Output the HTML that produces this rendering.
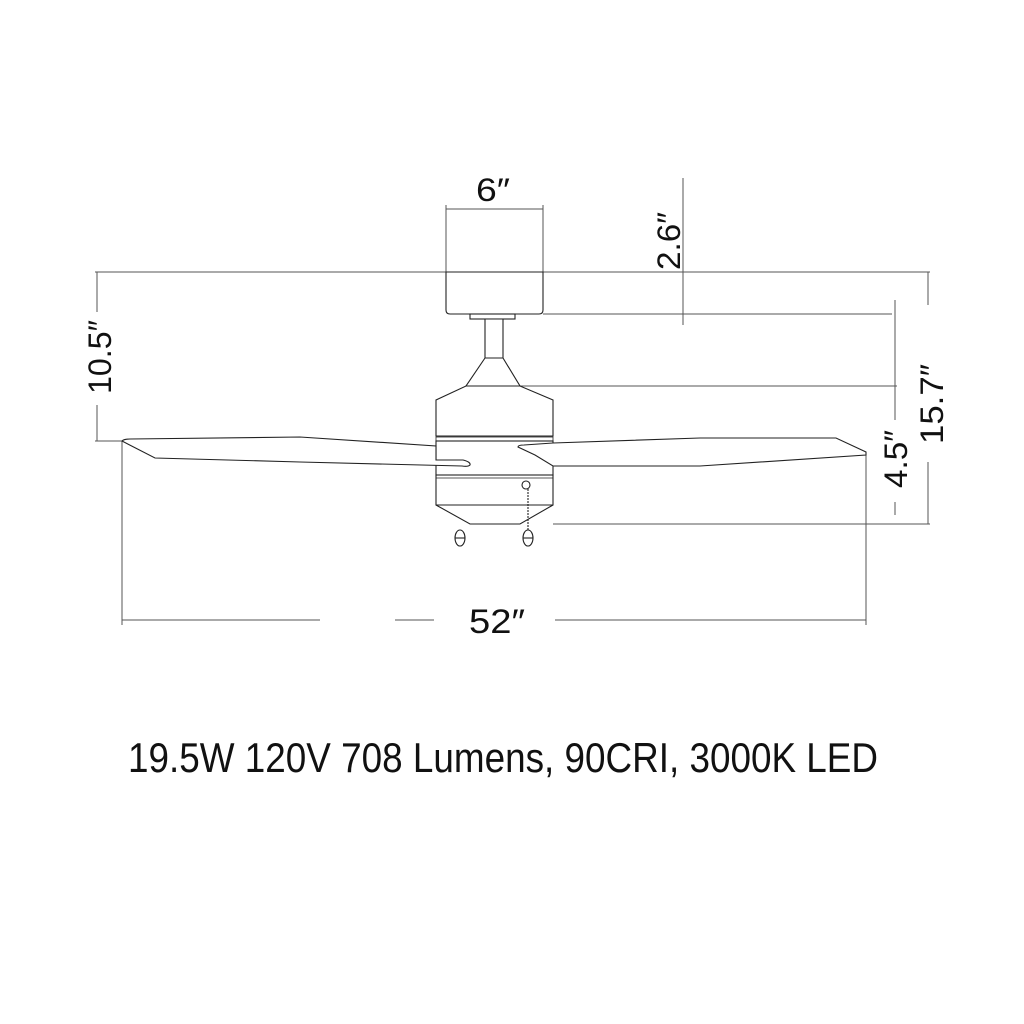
<!DOCTYPE html>
<html><head><meta charset="utf-8"><style>body{margin:0;background:#fff}svg{display:block}</style></head>
<body>
<svg width="1024" height="1024" viewBox="0 0 1024 1024" xmlns="http://www.w3.org/2000/svg" font-family="Liberation Sans, sans-serif">
<rect width="1024" height="1024" fill="#fff"/>
<g stroke="#555" stroke-width="1" fill="none">
 <line x1="95" y1="272" x2="930" y2="272"/>
 <line x1="543" y1="314" x2="892" y2="314"/>
 <line x1="520" y1="386" x2="897" y2="386"/>
 <line x1="553" y1="524" x2="930" y2="524"/>
 <line x1="95" y1="441" x2="122" y2="441"/>
 <line x1="446" y1="205" x2="446" y2="272"/>
 <line x1="543" y1="205" x2="543" y2="272"/>
 <line x1="446" y1="209" x2="543" y2="209"/>
 <line x1="683" y1="178" x2="683" y2="325"/>
 <line x1="97" y1="272" x2="97" y2="312"/>
 <line x1="97" y1="405" x2="97" y2="441"/>
 <line x1="928" y1="272" x2="928" y2="305"/>
 <line x1="928" y1="462" x2="928" y2="524"/>
 <line x1="895" y1="300" x2="895" y2="420"/>
 <line x1="895" y1="502" x2="895" y2="515"/>
 <line x1="122" y1="441" x2="122" y2="625"/>
 <line x1="866" y1="455" x2="866" y2="625"/>
 <line x1="122" y1="620" x2="320" y2="620"/>
 <line x1="395" y1="620" x2="434" y2="620"/>
 <line x1="555" y1="620" x2="866" y2="620"/>
</g>
<g stroke="#222" stroke-width="1.1" fill="#fff">
 <path d="M446 272 H543 V310 Q543 314 539 314 H450 Q446 314 446 310 Z"/>
 <rect x="470" y="314" width="45" height="5"/>
 <path d="M485 319 H503 V358 L520 386 H466 L485 358 Z"/>
 <line x1="485" y1="358" x2="503" y2="358"/>
 <path d="M466 386 H520 L553 400 V436 H436 V400 Z"/>
 <rect x="436" y="437" width="117" height="4" stroke-width="0.8"/>
 <path d="M436 475 H553 V505 L520 524 H470 L436 505 Z"/>
 <line x1="436" y1="505" x2="553" y2="505"/>
 <line x1="436" y1="478" x2="553" y2="478" stroke-width="0.8"/>
 <rect x="436" y="441" width="117" height="34"/>
 <!-- left blade -->
 <path d="M122 441 Q124 439 130 439 L300 437 L436 446 V460 L463 460 Q471 462 470 465 Q468 467 462 466 L300 462 L155 458 Z"/>
 <!-- right blade -->
 <path d="M518 447 Q518 445 524 445 L553 443 L700 438 L836 438 L866 452 L866 455 L700 466 L553 466 L535 455 Z"/>
 <line x1="528" y1="489" x2="528" y2="530" stroke-dasharray="2 1"/>
 <circle cx="526" cy="485" r="4"/>
 <ellipse cx="460" cy="538" rx="5" ry="8"/>
 <ellipse cx="528" cy="538" rx="5" ry="8"/>
 <line x1="455" y1="538" x2="465" y2="538"/>
 <line x1="523" y1="538" x2="533" y2="538"/>
</g>
<g fill="#111" font-size="32">
 <text x="493" y="201" text-anchor="middle" textLength="34" lengthAdjust="spacingAndGlyphs">6″</text>
 <text transform="translate(680,241) rotate(-90)" text-anchor="middle" textLength="58" lengthAdjust="spacingAndGlyphs">2.6″</text>
 <text transform="translate(111,357) rotate(-90)" text-anchor="middle" textLength="74" lengthAdjust="spacingAndGlyphs">10.5″</text>
 <text transform="translate(943,404) rotate(-90)" text-anchor="middle" textLength="80" lengthAdjust="spacingAndGlyphs">15.7″</text>
 <text transform="translate(907,459) rotate(-90)" text-anchor="middle" textLength="58" lengthAdjust="spacingAndGlyphs">4.5″</text>
 <text x="497" y="633" text-anchor="middle" font-size="34" textLength="56" lengthAdjust="spacingAndGlyphs">52″</text>
 <text x="128" y="772" font-size="42" textLength="750" lengthAdjust="spacingAndGlyphs">19.5W 120V 708 Lumens, 90CRI, 3000K LED</text>
</g>
</svg>
</body></html>
